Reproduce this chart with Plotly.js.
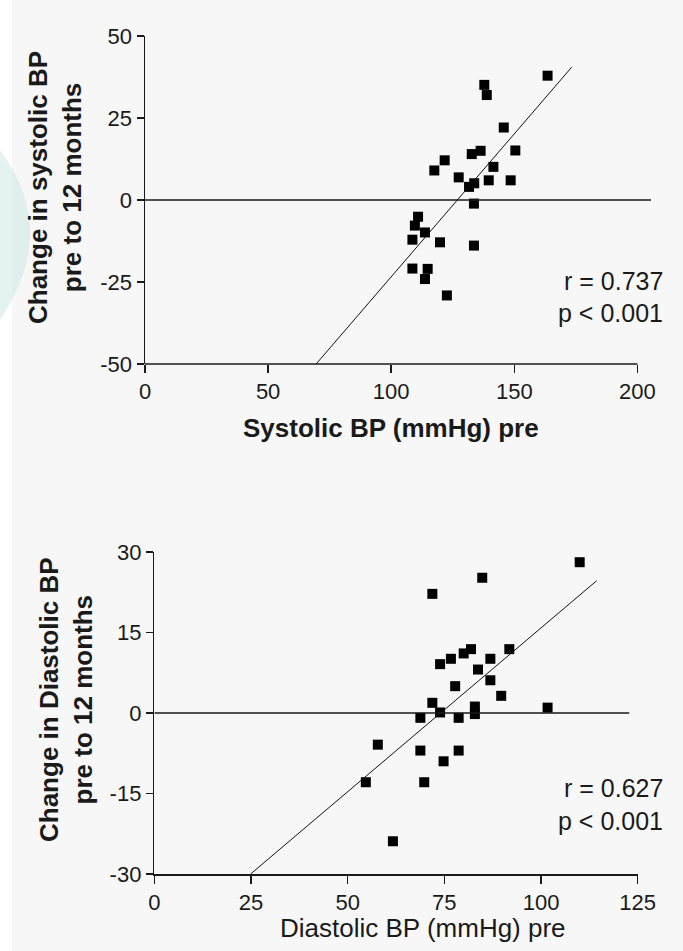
<!DOCTYPE html>
<html>
<head>
<meta charset="utf-8">
<script src="https://cdn.plot.ly/plotly-3.0.1.min.js"></script>
<style>
  html, body { margin: 0; padding: 0; background: #f7f7f7; overflow: hidden; }
  #chart { width: 683px; height: 951px; }
</style>
</head>
<body>
<div id="chart"></div>
<script>
// ---- Top panel: systolic BP ----
var sysPre = [163.5, 137.8, 138.8, 145.7, 150.4, 132.7, 136.3, 121.7, 117.5, 141.5, 127.4, 139.6, 148.5,
              133.7, 131.6, 133.6, 110.9, 109.6, 113.7, 108.6, 119.8, 133.6, 108.6, 114.8, 113.7, 122.6];
var sysChange = [37.9, 35.1, 32.0, 22.1, 15.1, 14.0, 15.0, 12.1, 9.0, 10.1, 6.9, 6.0, 6.0,
                 5.1, 4.0, -1.1, -5.1, -7.8, -9.9, -12.1, -12.9, -13.9, -20.9, -21.0, -24.1, -29.1];
var sysFitX = [69.5, 173.3];
var sysFitY = [-50, 40.5];
var sysXTicks = [0, 50, 100, 150, 200];
var sysYTicks = [-50, -25, 0, 25, 50];
var sysStats = ["r = 0.737", "p < 0.001"];

// ---- Bottom panel: diastolic BP ----
var diaPre = [110.0, 84.8, 71.9, 81.9, 80.0, 91.8, 76.7, 73.9, 86.9, 83.7, 86.9, 77.8, 89.7, 71.9,
              101.7, 82.9, 82.9, 73.9, 68.8, 78.7, 57.8, 68.8, 78.7, 74.8, 54.7, 69.8, 61.7];
var diaChange = [28.1, 25.2, 22.2, 11.9, 11.1, 11.9, 10.1, 9.1, 10.1, 8.1, 6.1, 5.0, 3.2, 1.9,
                 1.0, 1.2, -0.2, 0.1, -0.9, -0.9, -5.9, -7.0, -7.0, -9.0, -12.9, -12.9, -23.9];
var diaFitX = [24.9, 114.4];
var diaFitY = [-30, 24.65];
var diaXTicks = [0, 25, 50, 75, 100, 125];
var diaYTicks = [-30, -15, 0, 15, 30];
var diaStats = ["r = 0.627", "p < 0.001"];

var FONT = "Liberation Sans, Arial, Helvetica, sans-serif";
var INK = "#1a1a1a";
var W = 683, H = 951;
function px(x) { return x / W; }
function py(y) { return 1 - y / H; }

var markerStyle = { symbol: "square", size: 10, color: "#000000" };

var traces = [
  { x: sysPre, y: sysChange, xaxis: "x", yaxis: "y", type: "scatter", mode: "markers",
    marker: markerStyle, hoverinfo: "x+y", cliponaxis: false },
  { x: sysFitX, y: sysFitY, xaxis: "x", yaxis: "y", type: "scatter", mode: "lines",
    line: { color: "#111111", width: 1 }, hoverinfo: "skip" },
  { x: diaPre, y: diaChange, xaxis: "x2", yaxis: "y2", type: "scatter", mode: "markers",
    marker: markerStyle, hoverinfo: "x+y", cliponaxis: false },
  { x: diaFitX, y: diaFitY, xaxis: "x2", yaxis: "y2", type: "scatter", mode: "lines",
    line: { color: "#111111", width: 1 }, hoverinfo: "skip" }
];

function axisCommon(extra) {
  var base = {
    showgrid: false, zeroline: false,
    ticks: "outside", ticklen: 7, tickwidth: 1.5, tickcolor: INK,
    tickfont: { family: FONT, size: 22, color: INK },
    linecolor: INK, linewidth: 1.5,
    tickmode: "array", fixedrange: true
  };
  for (var k in extra) base[k] = extra[k];
  return base;
}

var layout = {
  width: W, height: H,
  margin: { l: 0, r: 0, t: 0, b: 0 },
  paper_bgcolor: "#f7f7f7",
  plot_bgcolor: "rgba(0,0,0,0)",
  showlegend: false,
  xaxis: axisCommon({ domain: [px(145), px(651)], range: [0, 205.5], anchor: "y",
                      tickvals: sysXTicks, ticktext: sysXTicks.map(String), showline: false, ticklen: 8 }),
  yaxis: axisCommon({ domain: [py(364), py(36)], range: [-50, 50], anchor: "x",
                      tickvals: sysYTicks, ticktext: sysYTicks.map(String), showline: true }),
  xaxis2: axisCommon({ domain: [px(154.3), px(637.7)], range: [0, 125], anchor: "y2",
                       tickvals: diaXTicks, ticktext: diaXTicks.map(String), showline: true, ticklen: 8 }),
  yaxis2: axisCommon({ domain: [py(874), py(552)], range: [-30, 30], anchor: "x2",
                       tickvals: diaYTicks, ticktext: diaYTicks.map(String), showline: true }),
  shapes: [
    // white strip at left edge
    { type: "rect", xref: "paper", yref: "paper", x0: 0, x1: px(12), y0: 0, y1: 1,
      fillcolor: "#ffffff", line: { width: 0 }, layer: "below" },
    // faint watermark wedge
    { type: "path", xref: "paper", yref: "paper",
      path: "M 0," + py(150) + " Q " + px(60) + "," + py(230) + " 0," + py(320) + " Z",
      fillcolor: "rgba(205,232,228,0.55)", line: { width: 0 }, layer: "below" },
    // top x axis line (0 to 200)
    { type: "line", xref: "x", yref: "y domain", x0: sysXTicks[0], x1: sysXTicks[sysXTicks.length - 1],
      y0: 0, y1: 0, line: { color: INK, width: 1.5 } },
    // zero reference lines
    { type: "line", xref: "x", yref: "y", x0: 0, x1: 205.5, y0: 0, y1: 0,
      line: { color: INK, width: 1.5 } },
    { type: "line", xref: "x2", yref: "y2", x0: 0, x1: 122.8, y0: 0, y1: 0,
      line: { color: INK, width: 1.5 } }
  ],
  annotations: [
    { xref: "paper", yref: "paper", x: px(391), y: py(428), xanchor: "center", yanchor: "middle",
      text: "<b>Systolic BP (mmHg) pre</b>", showarrow: false,
      font: { family: FONT, size: 26, color: INK } },
    { xref: "paper", yref: "paper", x: px(55), y: py(188), xanchor: "center", yanchor: "middle",
      textangle: -90, text: "<b>Change in systolic BP<br>pre to 12 months</b>", showarrow: false,
      font: { family: FONT, size: 26, color: INK } },
    { xref: "paper", yref: "paper", x: px(665), y: py(281), xanchor: "right", yanchor: "middle",
      text: sysStats[0], showarrow: false, font: { family: FONT, size: 25, color: INK } },
    { xref: "paper", yref: "paper", x: px(665), y: py(313), xanchor: "right", yanchor: "middle",
      text: sysStats[1], showarrow: false, font: { family: FONT, size: 25, color: INK } },

    { xref: "paper", yref: "paper", x: px(423), y: py(928), xanchor: "center", yanchor: "middle",
      text: "Diastolic BP (mmHg) pre", showarrow: false,
      font: { family: FONT, size: 26, color: INK } },
    { xref: "paper", yref: "paper", x: px(66), y: py(700), xanchor: "center", yanchor: "middle",
      textangle: -90, text: "<b>Change in Diastolic BP<br>pre to 12 months</b>", showarrow: false,
      font: { family: FONT, size: 26, color: INK } },
    { xref: "paper", yref: "paper", x: px(665), y: py(788), xanchor: "right", yanchor: "middle",
      text: diaStats[0], showarrow: false, font: { family: FONT, size: 25, color: INK } },
    { xref: "paper", yref: "paper", x: px(665), y: py(821), xanchor: "right", yanchor: "middle",
      text: diaStats[1], showarrow: false, font: { family: FONT, size: 25, color: INK } }
  ]
};

Plotly.newPlot("chart", traces, layout, { displayModeBar: false, staticPlot: true });
</script>
</body>
</html>
